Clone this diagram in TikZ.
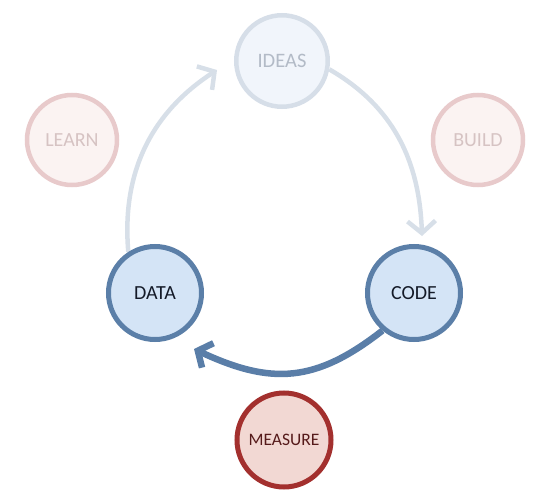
\documentclass[tikz,border=0pt]{standalone}
\usepackage{fontspec}
\setmainfont{Carlito}
\usetikzlibrary{arrows.meta,backgrounds}
\definecolor{ideasfill}{HTML}{F1F5FB}
\definecolor{ideasline}{HTML}{D6DEE8}
\definecolor{ideastext}{HTML}{B3BBC7}
\definecolor{palefill}{HTML}{FBF3F2}
\definecolor{paleline}{HTML}{E8CACB}
\definecolor{paletext}{HTML}{D6C3C3}
\definecolor{bluefill}{HTML}{D4E4F6}
\definecolor{blueline}{HTML}{5B7FA8}
\definecolor{bluetext}{HTML}{141A28}
\definecolor{redfill}{HTML}{F2D8D3}
\definecolor{redline}{HTML}{A3302E}
\definecolor{redtext}{HTML}{561A1A}
\definecolor{lightarrow}{HTML}{D7DFE8}
\definecolor{darkarrow}{HTML}{5A7EA8}
\newcommand{\fsz}[1]{\fontsize{#1}{#1}\selectfont}
\tikzset{
  x=1pt,y=1pt,
  bubble/.style={circle, inner sep=0pt},
  ideasbubble/.style={bubble, minimum size=91.5pt, line width=4.5pt, draw=ideasline, fill=ideasfill, text=ideastext, font=\fsz{20.5}},
  palebubble/.style={bubble, minimum size=90pt, line width=4.5pt, draw=paleline, fill=palefill, text=paletext, font=\fsz{20}},
  bluebubble/.style={bubble, minimum size=93pt, line width=5pt, draw=blueline, fill=bluefill, text=bluetext, font=\fsz{20}},
  redbubble/.style={bubble, minimum size=94pt, line width=5pt, draw=redline, fill=redfill, text=redtext, font=\fsz{17.5}},
  lightflow/.style={line width=4.5pt, draw=lightarrow, -{Straight Barb[length=12pt,width=28pt]}},
  darkflow/.style={line width=6.5pt, draw=darkarrow, -{Straight Barb[length=11pt,width=27pt]}},
}
\begin{document}
\begin{tikzpicture}
\useasboundingbox (0,0) rectangle (550,-498);
\node[ideasbubble] (ideas) at (282,-61) {IDEAS};
\node[palebubble] (learn) at (72,-140) {LEARN};
\node[palebubble] (build) at (478,-140) {BUILD};
\node[bluebubble] (data) at (155,-293) {DATA};
\node[bluebubble] (code) at (414,-293) {CODE};
\node[redbubble] (measure) at (284,-440) {MEASURE};
\coordinate (tipA) at (217,-70);
\coordinate (tipB) at (422,-236);
\coordinate (tipC) at (194,-349);
\begin{scope}[on background layer]
\draw[lightflow] (data.123) to[out=95,in=213] (tipA);
\draw[lightflow] (ideas.-10) to[out=-30,in=92] (tipB);
\draw[darkflow] (code.230) to[out=218,in=-25,looseness=1.15] (tipC);
\end{scope}
\end{tikzpicture}
\end{document}
